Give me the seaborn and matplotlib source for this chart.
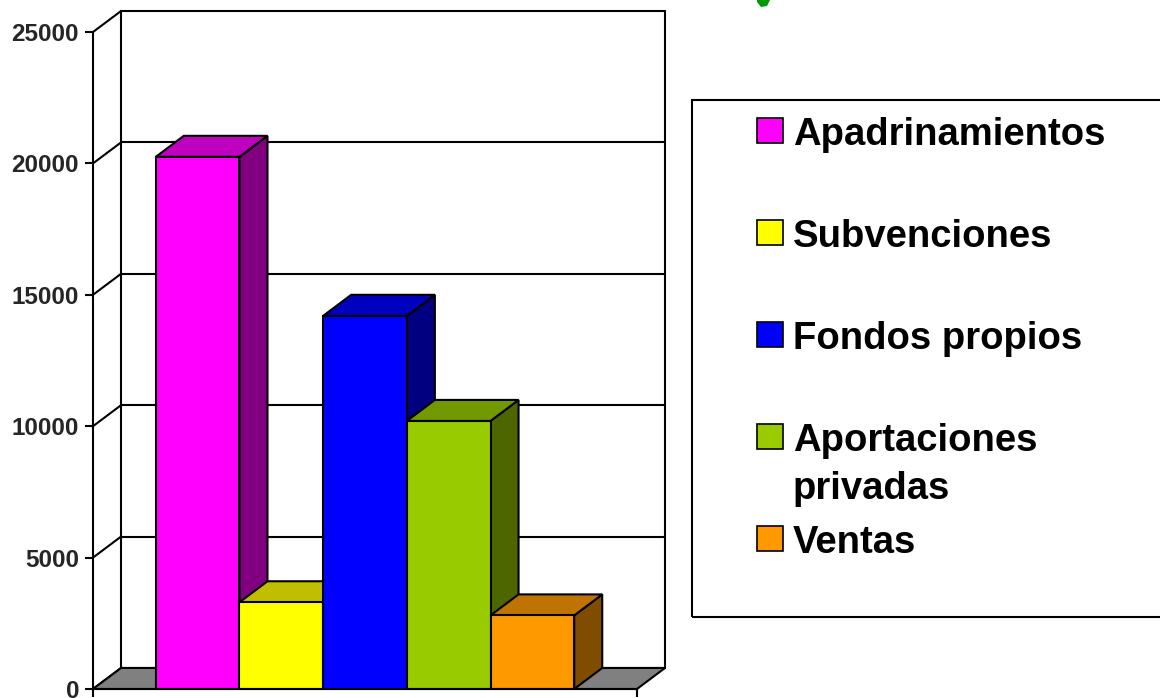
import matplotlib
matplotlib.use("Agg")
import matplotlib.pyplot as plt
from matplotlib.patches import Polygon, Rectangle
import pandas as pd
import seaborn as sns

# chart data
categories = ["Apadrinamientos", "Subvenciones", "Fondos propios", "Aportaciones\nprivadas", "Ventas"]
values = [20250, 3300, 14200, 10200, 2800]
front_colors = ["#FF00FF", "#FFFF00", "#0000FF", "#99CC00", "#FF9900"]
top_colors = ["#BF00BF", "#BFBF00", "#0000BF", "#739900", "#BF7300"]
side_colors = ["#800080", "#808000", "#000080", "#4D6600", "#804D00"]
y_ticks = [0, 5000, 10000, 15000, 20000, 25000]

df = pd.DataFrame({"fuente": categories, "valor": values})

sns.set_style("white")
plt.rcParams["font.family"] = ["Liberation Sans", "DejaVu Sans"]
plt.rcParams["font.weight"] = "bold"

W, H = 1160, 698
fig = plt.figure(figsize=(W / 100, H / 100), dpi=100)

# 3D look: depth offset of the back wall
X0, X1 = -1.25, 5.25
DX, DY = 0.335, 800
ax = fig.add_axes([93 / W, (H - 689) / H, 572 / W, 678 / H])

sns.barplot(data=df, x="fuente", y="valor", hue="fuente", palette=front_colors,
            width=1.0, saturation=1, edgecolor="black", linewidth=1.5,
            legend=False, ax=ax)
bars = list(ax.patches)

# faces for each bar: side + top behind the next bar's front
for i, p in enumerate(bars):
    x0, w, h = p.get_x(), p.get_width(), p.get_height()
    side = Polygon([(x0 + w, 0), (x0 + w + DX, DY), (x0 + w + DX, h + DY), (x0 + w, h)],
                   closed=True, facecolor=side_colors[i], edgecolor="black",
                   linewidth=1.5, zorder=3 + 2 * i)
    top = Polygon([(x0, h), (x0 + w, h), (x0 + w + DX, h + DY), (x0 + DX, h + DY)],
                  closed=True, facecolor=top_colors[i], edgecolor="black",
                  linewidth=1.5, zorder=3 + 2 * i)
    ax.add_patch(side)
    ax.add_patch(top)
    p.set_zorder(4 + 2 * i)

# back wall grid, left wall diagonals, floor
for v in y_ticks:
    ax.plot([X0 + DX, X1 + DX], [v + DY, v + DY], color="black", lw=1.5, zorder=1, clip_on=False)
    ax.plot([X0, X0 + DX], [v, v + DY], color="black", lw=1.5, zorder=1, clip_on=False)
ax.plot([X0 + DX, X0 + DX], [DY, y_ticks[-1] + DY], color="black", lw=1.5, zorder=1, clip_on=False)
ax.plot([X1 + DX, X1 + DX], [DY, y_ticks[-1] + DY], color="black", lw=1.5, zorder=1, clip_on=False)
floor = Polygon([(X0, 0), (X1, 0), (X1 + DX, DY), (X0 + DX, DY)], closed=True,
                facecolor="#808080", edgecolor="black", linewidth=1.5, zorder=2, clip_on=False)
ax.add_patch(floor)

ax.set_xlim(X0, X1 + DX)
ax.set_ylim(0, y_ticks[-1] + DY)
ax.set_xlabel("")
ax.set_ylabel("")

for s in ["top", "right"]:
    ax.spines[s].set_visible(False)
ax.spines["left"].set_bounds(0, y_ticks[-1])
ax.spines["bottom"].set_bounds(X0, X1)
for s in ["left", "bottom"]:
    ax.spines[s].set_linewidth(1.5)
    ax.spines[s].set_color("black")
    ax.spines[s].set_zorder(20)

ax.set_yticks(y_ticks)
ax.set_yticklabels([str(t) for t in y_ticks], fontsize=17.5, fontweight="bold")
ax.set_xticks([X0, X1])
ax.set_xticklabels(["", ""])
ax.tick_params(axis="y", left=True, direction="out", length=6, width=1.5, pad=4, color="black")
ax.tick_params(axis="x", bottom=True, direction="out", length=6, width=1.5, color="black")

# legend box, drawn by hand so the two-line entry keeps even spacing
def fx(px):
    return px / W

def fy(py):
    return 1 - py / H

fig.add_artist(Rectangle((fx(692), fy(617)), fx(1200 - 692), (617 - 100) / H,
                         transform=fig.transFigure, fill=False, edgecolor="black",
                         linewidth=1.5, clip_on=False))
baselines = [145, 247, 349, 451, 553]
for i, lab in enumerate(categories):
    b = baselines[i]
    fig.add_artist(Rectangle((fx(757), fy(b - 2)), fx(26), 25 / H, transform=fig.transFigure,
                             facecolor=front_colors[i], edgecolor="black", linewidth=1.2))
    for k, line in enumerate(lab.split("\n")):
        fig.text(fx(793), fy(b + 48 * k), line, fontsize=27.5, fontweight="bold",
                 va="baseline", ha="left", color="black")

# small green mark cut off at the top edge
fig.add_artist(Polygon([(fx(757), fy(0)), (fx(770), fy(0)), (fx(767), fy(6)),
                        (fx(761), fy(7)), (fx(757), fy(2))], closed=True,
                       transform=fig.transFigure, facecolor="#009900", edgecolor="none"))

fig.savefig("out.png", dpi=100)
